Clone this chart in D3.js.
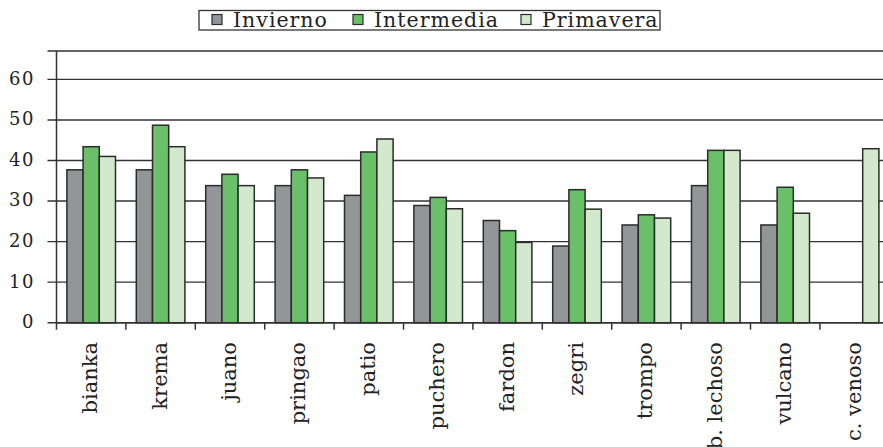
<!DOCTYPE html>
<html><head><meta charset="utf-8">
<script src="https://cdn.jsdelivr.net/npm/d3@7"></script>
<style>
html,body{margin:0;padding:0;background:#fff;}
svg{display:block;}
</style></head>
<body><svg id="c" width="883" height="447"></svg>
<script>
const categories = ["bianka","krema","juano","pringao","patio","puchero","fardon","zegri","trompo","b. lechoso","vulcano","c. venoso"];
const seriesNames = ["Invierno","Intermedia","Primavera"];
const invierno   = [37.7,37.7,33.8,33.8,31.4,28.9,25.2,18.9,24.1,33.8,24.1,null];
const intermedia = [43.4,48.7,36.6,37.7,42.1,30.9,22.7,32.8,26.6,42.5,33.4,null];
const primavera  = [41.0,43.4,33.8,35.7,45.3,28.1,19.8,28.0,25.8,42.5,27.0,42.9];
const yTicks = [0,10,20,30,40,50,60];
const colors = ["#939598","#6abf69","#d3e9ce"];

(function(){
const FONT = "DejaVu Serif";
const values = [invierno, intermedia, primavera];
const svg = d3.select("#c");
const pLeft = 56.5, pRight = 889.3, pTop = 51, pBottom = 322.7;
const x = d3.scaleBand().domain(categories).range([pLeft, pRight]).padding(0);
const xs = d3.scaleBand().domain(seriesNames).range([0, x.bandwidth()]).paddingInner(0).paddingOuter(0.642);
const y = d3.scaleLinear().domain([0, 67]).range([pBottom, pTop]);
const lineCol = "#333";

// gridlines
svg.append("g").selectAll("line").data(yTicks.concat([67])).join("line")
  .attr("x1", pLeft - 9).attr("x2", 883)
  .attr("y1", d => y(d)).attr("y2", d => y(d))
  .attr("stroke", lineCol).attr("stroke-width", 1.4);

// bars
const rows = [];
categories.forEach((c, i) => seriesNames.forEach((s, j) => {
  if (values[j][i] != null) rows.push({c, s, v: values[j][i], col: colors[j]});
}));
svg.append("g").selectAll("rect").data(rows).join("rect")
  .attr("x", d => x(d.c) + xs(d.s))
  .attr("width", xs.bandwidth())
  .attr("y", d => y(d.v))
  .attr("height", d => y(0) - y(d.v))
  .attr("fill", d => d.col)
  .attr("stroke", "#2b2b2b").attr("stroke-width", 1.5);

// y axis
const yAxis = d3.axisLeft(y).tickValues(yTicks).tickSize(0).tickPadding(21.5).tickFormat(d3.format("d"));
const ga = svg.append("g").attr("transform", `translate(${pLeft},0)`).call(yAxis);
ga.attr("font-family", FONT).attr("font-size", 18);
ga.select(".domain").remove();
ga.selectAll(".tick line").remove();
ga.selectAll("text").attr("fill", "#222").attr("dy", "0.27em").attr("letter-spacing", "1.5px");
svg.append("line").attr("x1", pLeft).attr("x2", pLeft).attr("y1", pTop).attr("y2", pBottom + 7)
  .attr("stroke", lineCol).attr("stroke-width", 1.5);

// x boundary ticks
const bounds = categories.map(c => x(c)).concat([pRight]);
svg.append("g").selectAll("line").data(bounds.slice(1)).join("line")
  .attr("x1", d => d).attr("x2", d => d).attr("y1", pBottom).attr("y2", pBottom + 7)
  .attr("stroke", lineCol).attr("stroke-width", 1.5);
svg.append("line").attr("x1", pLeft).attr("x2", 883).attr("y1", pBottom).attr("y2", pBottom)
  .attr("stroke", lineCol).attr("stroke-width", 1.5);

// x labels
svg.append("g").selectAll("text").data(categories).join("text")
  .attr("transform", d => `translate(${x(d) + x.bandwidth()/2},342) rotate(-90)`)
  .attr("text-anchor", "end").attr("dy", "0.29em")
  .attr("font-family", FONT).attr("font-size", 21).attr("fill", "#222")
  .text(d => d);

// legend
const lg = svg.append("g");
lg.append("rect").attr("x", 199).attr("y", 10.5).attr("width", 461).attr("height", 19.5)
  .attr("fill", "#fff").attr("stroke", "#333").attr("stroke-width", 1.3);
const lx = [212, 353, 521];
seriesNames.forEach((s, i) => {
  lg.append("rect").attr("x", lx[i]).attr("y", 14.5).attr("width", 10).attr("height", 10)
    .attr("fill", colors[i]).attr("stroke", "#2b2b2b").attr("stroke-width", 1.2);
  lg.append("text").attr("x", lx[i] + 21).attr("y", 27.3)
    .attr("font-family", FONT).attr("font-size", 20.5).attr("letter-spacing", "1px")
    .attr("fill", "#222").text(s);
});
})();
</script></body></html>
